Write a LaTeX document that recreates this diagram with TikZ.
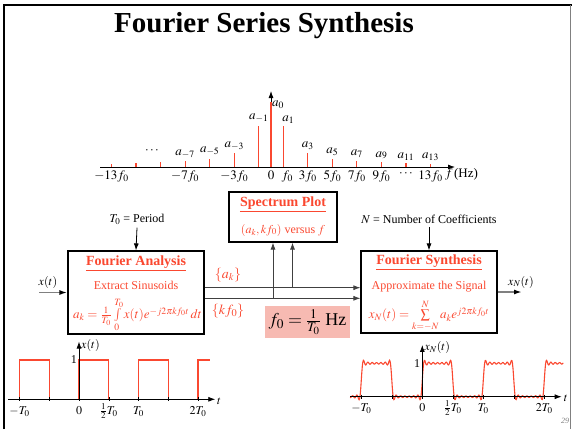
\documentclass[tikz,border=0pt]{standalone}
\usepackage{mathptmx}
\usepackage{fontspec}
\setmainfont{Liberation Serif}
\usetikzlibrary{arrows.meta}
\definecolor{rouge}{RGB}{250,72,48}
\definecolor{saumon}{RGB}{247,186,178}
\tikzset{
	boite/.style={draw,line width=1.2pt,inner sep=0pt},
	titre/.style={text=rouge,font=\fontsize{14}{16}\selectfont\bfseries,inner xsep=0pt},
	texterouge/.style={text=rouge},
	fleche/.style={-{Latex[length=7pt,width=5pt]},line width=0.8pt},
	entre/.style={-{Latex[length=8pt,width=5pt,color=black]},gray,line width=1.8pt},
	lien/.style={fleche,black!75},
	tige/.style={rouge,line width=1.2pt},
	onde/.style={rouge,line width=1.1pt},
	spectral/.style={font=\fontsize{13}{15}\selectfont},
	graduation/.style={anchor=base,yshift=-15pt},
}

\begin{document}
\begin{tikzpicture}[x=1pt,y=-1pt,font=\fontsize{12}{14}\selectfont]
%					Cadre de la page :
	\useasboundingbox (0,0) rectangle (572,429);
	\draw[line width=2.5pt] (4,429) -- (4,5) -- (572,5);
	\draw[gray,line width=0.8pt] (570.5,5) -- (570.5,429);
	\node[font=\fontsize{29}{32}\selectfont\bfseries,anchor=base] (titre) at (264,32) {Fourier Series Synthesis};

%					Tracé des axes du spectre :
	\draw[fleche] (100,167) -- (455,167);
	\draw[fleche] (271,167) -- (271,91);
	\node[spectral,anchor=west,inner sep=0pt] (hz) at (445,174) {$f\,$(Hz)};
%					Tracé des raies :
	\foreach \k in {-13,-11,...,13}
		\draw[tige] (271+12.27*\k,167) -- ++(0,{-130/(pi*abs(\k))});
	\draw[tige] (271,167) -- (271,102);
	\node[spectral,anchor=west,inner sep=1pt] (a0) at (271,105) {$a_0$};
	\node[spectral,above,inner sep=3pt,xshift=5pt] (a1) at (283.3,126.6) {$a_1$};
	\foreach \k in {-7,-5,-3,-1,3,5,7,9,11,13}
		\node[spectral,above,inner sep=3pt] (a\k) at (271+12.27*\k,{167-130/(pi*abs(\k))}) {$a_{\k}$};
	\node[spectral] (pts) at (152,151) {$\cdots$};
%					Graduations :
	\foreach \k/\t in {-13/-13f_0,-7/-7f_0,-3/-3f_0,0/0,3/3f_0,5/5f_0,7/7f_0,9/9f_0,11/\cdots,13/13f_0}
		\node[spectral,below] (f\k) at (271+12.27*\k,167) {$\t$};
	\node[spectral,below,xshift=4pt] (f1) at (283.3,167) {$f_0$};

%					Les trois blocs :
	\node[boite,minimum width=108pt,minimum height=50pt] (spectre) at (283,217) {};
	\node[titre] (tspectre) at (283,203) {Spectrum Plot};
	\draw[rouge,line width=0.8pt] ([yshift=-5.5pt]tspectre.base west) -- ([yshift=-5.5pt]tspectre.base east);
	\node[texterouge] (vspectre) at (283,230) {$(a_k,kf_0)$ versus $f$};

	\node[boite,minimum width=136pt,minimum height=83pt] (analyse) at (136,292.5) {};
	\node[titre] (tanalyse) at (136,262) {Fourier Analysis};
	\draw[rouge,line width=0.8pt] ([yshift=-5.5pt]tanalyse.base west) -- ([yshift=-5.5pt]tanalyse.base east);
	\node[texterouge] (extrait) at (136,285) {Extract Sinusoids};
	\node[texterouge,spectral] (formuleA) at (137.5,315) {$a_k=\frac{1}{T_0}\int\limits_0^{T_0}x(t)e^{-j2\pi kf_0t}\,dt$};

	\node[boite,minimum width=136pt,minimum height=82pt] (synthese) at (429,292) {};
	\node[titre] (tsynthese) at (429,261) {Fourier Synthesis};
	\draw[rouge,line width=0.8pt] ([yshift=-5.5pt]tsynthese.base west) -- ([yshift=-5.5pt]tsynthese.base east);
	\node[texterouge] (approx) at (429,287) {Approximate the Signal};
	\node[texterouge,spectral] (formuleS) at (429,316) {$x_N(t)=\sum\limits_{k=-N}^{N}a_ke^{j2\pi kf_0t}$};

	\node[fill=saumon,minimum width=85pt,minimum height=30pt,font=\fontsize{18}{20}\selectfont] (freq) at (307.5,322) {$f_0=\frac{1}{T_0}$ Hz};

%					Entrées et sorties :
	\node (periode) at (137,219) {$T_0$ = Period};
	\node (ncoef) at (429,219) {$N$ = Number of Coefficients};
	\draw[fleche] (periode.south) -- (analyse.north);
	\draw[fleche] (ncoef.south) -- (synthese.north);
	\coordinate (entree) at (39,292.5);
	\coordinate (sortie) at (522,292);
	\draw[entre] (entree) -- (analyse.west);
	\draw[entre] (synthese.east) -- (sortie);
	\node (xt) at (48,282) {$x(t)$};
	\node (xnt) at (521,282) {$x_N(t)$};

%					Liaisons entre les blocs :
	\coordinate (ka) at ([yshift=4.8pt]analyse.east);
	\coordinate (kf) at ([yshift=-5.8pt]analyse.east);
	\draw[lien] (ka) -- (ka -| synthese.west);
	\draw[lien] (kf) -- (kf -| synthese.west);
	\coordinate (pa) at ([xshift=9.5pt]spectre.south);
	\coordinate (pf) at ([xshift=-10pt]spectre.south);
	\draw[lien] (pa |- ka) -- (pa);
	\draw[lien] (pf |- kf) -- (pf);
	\node[texterouge,font=\fontsize{14}{16}\selectfont] (lak) at (228,275) {$\{a_k\}$};
	\node[texterouge,font=\fontsize{14}{16}\selectfont] (lkf) at (228,311) {$\{kf_0\}$};

%					Tracé du signal carré :
	\begin{scope}[shift={(79,399.3)},x=59.5pt,y=39.3pt]
		\draw[onde] (-1.19,0) -- (-1,0) -- (-1,1) -- (-0.5,1) -- (-0.5,0) -- (0,0) -- (0,1) -- (0.5,1) -- (0.5,0) -- (1,0) -- (1,1) -- (1.5,1) -- (1.5,0) -- (2,0) -- (2,1) -- (2.2,1);
		\draw[fleche] (-1.19,0) -- (2.29,0);
		\draw[fleche] (0,0) -- (0,1.47);
		\foreach \x in {-1,-0.5,...,2}
			\draw (\x,0.05) -- (\x,-0.05);
		\node[left,inner sep=2pt] (ung) at (0,1) {1};
		\node[anchor=west,inner sep=2pt] (xg) at (0,1.38) {$x(t)$};
		\node[anchor=west,inner sep=1pt] (tg) at (2.3,-0.06) {$t$};
		\node[graduation] (g1) at (-1,0) {$-T_0$};
		\node[graduation] (g2) at (0,0) {$0$};
		\node[graduation] (g3) at (0.5,0) {$\frac{1}{2}T_0$};
		\node[graduation] (g4) at (1,0) {$T_0$};
		\node[graduation] (g5) at (2,0) {$2T_0$};
	\end{scope}

%					Tracé de la somme partielle :
	\begin{scope}[shift={(422.3,396.7)},x=61pt,y=33.4pt]
		\draw[onde] plot[domain=-1.185:2.31,samples=400] (\x,{0.5+2/pi*(sin(360*\x)+sin(1080*\x)/3+sin(1800*\x)/5+sin(2520*\x)/7+sin(3240*\x)/9+sin(3960*\x)/11+sin(4680*\x)/13)});
		\draw[fleche] (-1.185,0) -- (2.285,0);
		\draw[fleche] (0,0) -- (0,1.55);
		\foreach \x in {-1,-0.5,...,2}
			\draw (\x,0.06) -- (\x,-0.06);
		\node[left,inner sep=2pt] (und) at (0,1) {1};
		\node[anchor=west,inner sep=2pt] (xd) at (0,1.46) {$x_N(t)$};
		\node[anchor=west,inner sep=1pt] (td) at (2.3,-0.06) {$t$};
		\node[graduation] (d1) at (-1,0) {$-T_0$};
		\node[graduation] (d2) at (0,0) {$0$};
		\node[graduation] (d3) at (0.5,0) {$\frac{1}{2}T_0$};
		\node[graduation] (d4) at (1,0) {$T_0$};
		\node[graduation] (d5) at (2,0) {$2T_0$};
	\end{scope}

	\node[gray,font=\fontsize{8}{9}\selectfont\itshape] (page) at (565,421) {29};
\end{tikzpicture}
\end{document}
